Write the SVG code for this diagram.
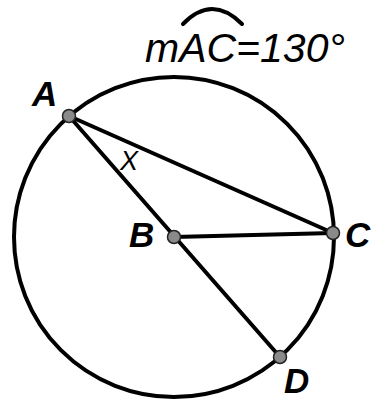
<svg xmlns="http://www.w3.org/2000/svg" width="372" height="401" viewBox="0 0 372 401">
<style>
.ln{stroke:#000;stroke-width:4;fill:none;stroke-linecap:round}
.pt{fill:#8a8a8a;stroke:#222;stroke-width:1.5}
.lb{font-family:"Liberation Sans",Arial,sans-serif;font-style:italic;font-weight:bold;font-size:35px;fill:#000}
.tt{font-family:"Liberation Sans",Arial,sans-serif;font-style:italic;font-size:41px;fill:#000}
</style>
<rect width="372" height="401" fill="#fff"/>
<g id="connectors">
<circle class="ln" cx="174" cy="237" r="160" stroke-width="3.5"/>
<line class="ln" x1="69" y1="116" x2="280" y2="357"/>
<line class="ln" x1="69" y1="116" x2="333" y2="233"/>
<line class="ln" x1="174" y1="237" x2="333" y2="233"/>
<path class="ln" d="M183 24 Q212 -6 242 24" stroke-width="3"/>
</g>
<g id="title"><text class="tt" x="145" y="62">mAC=130°</text></g>
<g id="nodeA"><circle class="pt" cx="69" cy="116" r="6.5"/><text class="lb" x="32" y="106">A</text></g>
<g id="nodeB"><circle class="pt" cx="174" cy="237" r="6.5"/><text class="lb" x="129" y="247">B</text></g>
<g id="nodeC"><circle class="pt" cx="333" cy="233" r="6.5"/><text class="lb" x="345" y="247">C</text></g>
<g id="nodeD"><circle class="pt" cx="280" cy="357" r="6.5"/><text class="lb" x="284" y="393" font-size="33">D</text></g>
<g id="labelX"><text x="120" y="170" font-family="Liberation Sans, Arial, sans-serif" font-style="italic" font-size="27">X</text></g>
</svg>
